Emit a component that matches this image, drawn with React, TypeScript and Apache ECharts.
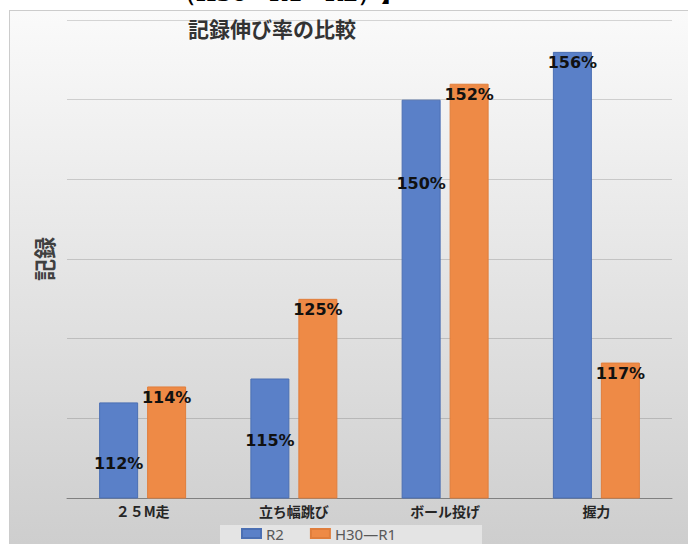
import React, { useEffect, useRef } from 'react';
import * as echarts from 'echarts';

const categories = ['２５M走', '立ち幅跳び', 'ボール投げ', '握力'];
const seriesNames = ['R2', 'H30—R1'];
const r2Values = [112, 115, 150, 156];
const h30r1Values = [114, 125, 152, 117];
const yMin = 100;
const yMax = 160;
const yInterval = 10;
const titleText = '記録伸び率の比較';
const yAxisTitle = '記録';
const headerText = '（H30－R1　R2）】';

// label offsets below bar top (layout, not data)
const r2LabelOffsets = [61, 62, 84, 11];
const h30LabelOffsets = [11, 11, 11, 11];

export default function App() {
  const ref = useRef<HTMLDivElement>(null);
  useEffect(() => {
    const chart = echarts.init(ref.current!, null, { renderer: 'svg' });
    const labelBase = {
      show: true,
      formatter: '{c}%',
      align: 'center',
      verticalAlign: 'middle',
      color: '#111',
      fontWeight: 'bold',
      fontSize: 16,
      fontFamily: '"DejaVu Sans", sans-serif',
    };
    const mkData = (vals: number[], offs: number[]) =>
      vals.map((v, i) => ({ value: v, label: { position: ['50%', offs[i]] } }));
    chart.setOption({
      animation: false,
      backgroundColor: new echarts.graphic.LinearGradient(0, 0, 0, 1, [
        { offset: 0, color: '#fbfbfb' },
        { offset: 0.45, color: '#e7e7e7' },
        { offset: 1, color: '#cecece' },
      ]),
      graphic: [
        { type: 'rect', silent: true, shape: { x: 0, y: 0, width: 688, height: 10 }, style: { fill: '#ffffff' } },
        { type: 'rect', silent: true, shape: { x: 0, y: 0, width: 9, height: 544 }, style: { fill: '#ffffff' } },
        { type: 'line', silent: true, shape: { x1: 9, y1: 10.5, x2: 688, y2: 10.5 }, style: { stroke: '#cccccc', lineWidth: 1 } },
        { type: 'line', silent: true, shape: { x1: 9.5, y1: 10, x2: 9.5, y2: 544 }, style: { stroke: '#cccccc', lineWidth: 1 } },
        {
          type: 'text', silent: true, x: 288, y: 4,
          style: { text: headerText, font: 'bold 22px "DejaVu Serif", serif', fill: '#000', align: 'center', verticalAlign: 'bottom' },
        },
        {
          type: 'text', silent: true, x: 43, y: 259, rotation: Math.PI / 2,
          style: { text: yAxisTitle, font: 'bold 22px "Noto Sans CJK JP", sans-serif', fill: '#404040', align: 'center', verticalAlign: 'middle' },
        },
        { type: 'rect', silent: true, z: -1, shape: { x: 220, y: 525, width: 262, height: 19 }, style: { fill: '#e4e4e4' } },
      ],
      title: {
        text: titleText,
        left: 267,
        top: 12,
        textAlign: 'center',
        textStyle: { fontSize: 21, fontWeight: 'bold', color: '#333333', fontFamily: '"Noto Sans CJK JP", sans-serif' },
      },
      legend: {
        data: seriesNames,
        left: 241,
        top: 526,
        padding: 0,
        itemGap: 26,
        itemWidth: 19,
        itemHeight: 9,
        icon: 'rect',
        textStyle: { fontSize: 15, lineHeight: 15, color: '#595959', fontFamily: '"Noto Sans", sans-serif' },
      },
      grid: { left: 67, right: 16, top: 20, bottom: 46, containLabel: false },
      xAxis: {
        type: 'category',
        data: categories,
        axisLine: { lineStyle: { color: '#808080', width: 1 } },
        axisTick: { show: false },
        axisLabel: {
          margin: 6,
          color: '#262626',
          fontWeight: 'bold',
          fontSize: 14,
          fontFamily: '"Noto Sans CJK JP", sans-serif',
        },
      },
      yAxis: {
        type: 'value',
        min: yMin,
        max: yMax,
        interval: yInterval,
        axisLine: { show: false },
        axisTick: { show: false },
        axisLabel: { show: false },
        splitLine: { lineStyle: { color: 'rgba(0,0,0,0.15)', width: 1 } },
      },
      series: [
        {
          name: seriesNames[0],
          type: 'bar',
          barWidth: 39,
          barGap: '23%',
          data: mkData(r2Values, r2LabelOffsets),
          itemStyle: { color: '#5a80c8', borderColor: '#4b6fb3', borderWidth: 1 },
          label: labelBase,
        },
        {
          name: seriesNames[1],
          type: 'bar',
          barWidth: 39,
          barGap: '23%',
          data: mkData(h30r1Values, h30LabelOffsets),
          itemStyle: { color: '#ee8a46', borderColor: '#e07e3c', borderWidth: 1 },
          label: labelBase,
        },
      ],
    });
    return () => chart.dispose();
  }, []);
  return (
    <div
      ref={ref}
      style={{ position: 'fixed', left: 0, top: 0, width: 688, height: 544 }}
    />
  );
}
